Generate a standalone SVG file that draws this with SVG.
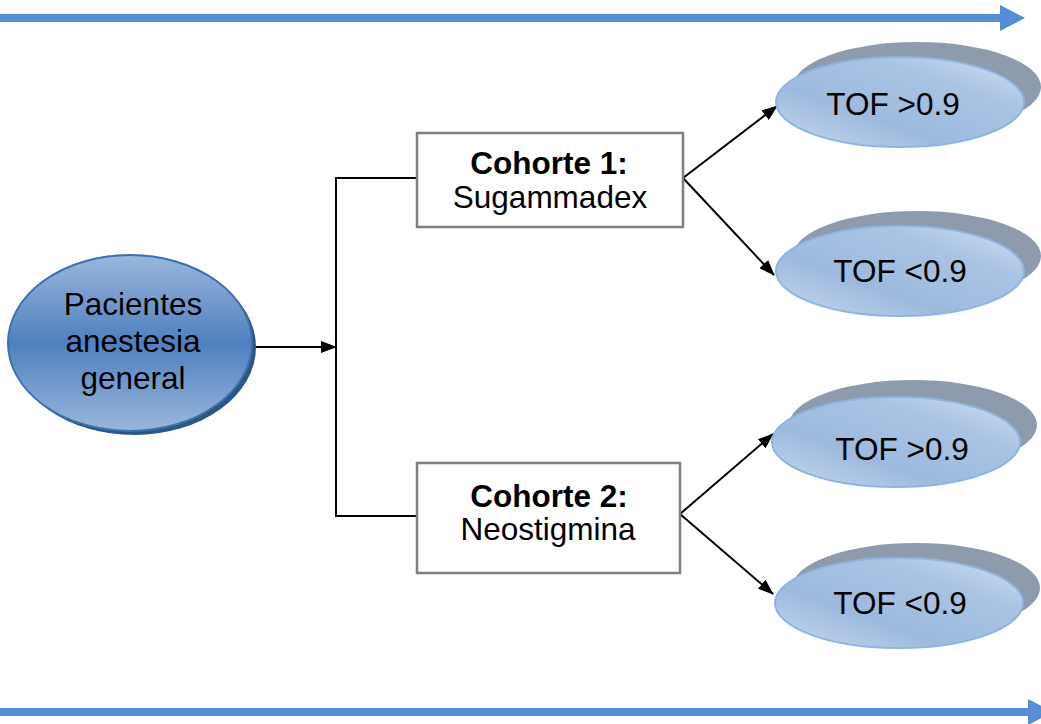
<svg xmlns="http://www.w3.org/2000/svg" width="1041" height="724" viewBox="0 0 1041 724">
<defs>
<linearGradient id="gMain" x1="0" y1="0" x2="0" y2="1">
<stop offset="0" stop-color="#9ab7dc"/>
<stop offset="0.5" stop-color="#4f80bf"/>
<stop offset="1" stop-color="#9ab7dc"/>
</linearGradient>
<linearGradient id="gTof" x1="0" y1="1" x2="1" y2="0">
<stop offset="0" stop-color="#c9d9ee"/>
<stop offset="0.35" stop-color="#9dbade"/>
<stop offset="0.7" stop-color="#a9c3e3"/>
<stop offset="1" stop-color="#d3e1f2"/>
</linearGradient>
<marker id="ah" markerWidth="16" markerHeight="12" refX="15" refY="6" orient="auto" markerUnits="userSpaceOnUse">
<path d="M0,0 L16,6 L0,12 z" fill="#000"/>
</marker>
<marker id="big" markerWidth="26" markerHeight="26" refX="2" refY="13" orient="auto" markerUnits="userSpaceOnUse">
<path d="M0,0 L25,13 L0,26 z" fill="#558ed5"/>
</marker>
</defs>
<style>
.t{font-family:"Liberation Sans",Arial,sans-serif;font-size:31.5px;fill:#000;text-anchor:middle}
.s{font-size:31.5px}
.b{font-weight:bold}
.box{fill:#fff;stroke:#7f7f7f;stroke-width:2.5}
.sh{fill:#8d9bac}
.tof{fill:url(#gTof);stroke:#8eb4e3;stroke-width:2}
.c{fill:none;stroke:#000;stroke-width:2}
.bar{stroke:#558ed5;stroke-width:8}
</style>
<g id="timeline-top"><line class="bar" x1="0" y1="18" x2="1002" y2="18" marker-end="url(#big)"/></g>
<g id="timeline-bottom"><line class="bar" x1="0" y1="712" x2="1030" y2="712" marker-end="url(#big)"/></g>
<g id="connectors">
<line class="c" x1="252" y1="347" x2="336" y2="347" marker-end="url(#ah)"/>
<polyline class="c" points="417,178 336,178 336,516 417,516"/>
<line class="c" x1="683" y1="178" x2="777" y2="106" marker-end="url(#ah)"/>
<line class="c" x1="683" y1="178" x2="774" y2="275" marker-end="url(#ah)"/>
<line class="c" x1="680" y1="514" x2="773" y2="434" marker-end="url(#ah)"/>
<line class="c" x1="680" y1="514" x2="773" y2="594" marker-end="url(#ah)"/>
</g>
<g id="pacientes">
<ellipse cx="134" cy="347" rx="122" ry="88" fill="#2c5588"/>
<ellipse cx="130" cy="343" rx="122" ry="88" fill="url(#gMain)" stroke="#3e6fae" stroke-width="2"/>
<text class="t" x="133" y="315">Pacientes</text>
<text class="t" x="133" y="352">anestesia</text>
<text class="t" x="133" y="389">general</text>
</g>
<g id="cohorte1">
<rect class="box" x="417" y="133" width="266" height="94"/>
<text class="t s b" x="549" y="174">Cohorte 1:</text>
<text class="t s" x="550" y="208">Sugammadex</text>
</g>
<g id="cohorte2">
<rect class="box" x="417" y="463" width="263" height="110"/>
<text class="t s b" x="549" y="507">Cohorte 2:</text>
<text class="t s" x="548" y="540">Neostigmina</text>
</g>
<g id="tof1">
<ellipse class="sh" cx="917" cy="87" rx="124" ry="45"/>
<ellipse class="tof" cx="900" cy="102" rx="124" ry="45"/>
<text class="t" x="893" y="115">TOF &gt;0.9</text>
</g>
<g id="tof2">
<ellipse class="sh" cx="917" cy="256" rx="124" ry="45"/>
<ellipse class="tof" cx="900" cy="271" rx="124" ry="45"/>
<text class="t" x="900" y="282">TOF &lt;0.9</text>
</g>
<g id="tof3">
<ellipse class="sh" cx="913" cy="425" rx="124" ry="45"/>
<ellipse class="tof" cx="896" cy="442" rx="124" ry="45"/>
<text class="t" x="902" y="460">TOF &gt;0.9</text>
</g>
<g id="tof4">
<ellipse class="sh" cx="916" cy="588" rx="124" ry="45"/>
<ellipse class="tof" cx="899" cy="603" rx="124" ry="45"/>
<text class="t" x="900" y="614">TOF &lt;0.9</text>
</g>
</svg>
